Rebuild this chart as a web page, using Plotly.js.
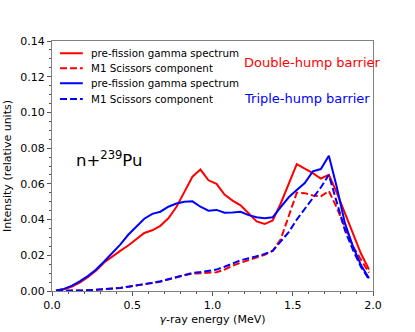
<!DOCTYPE html>
<html><head><meta charset="utf-8">
<script src="https://cdn.plot.ly/plotly-3.0.1.min.js"></script>
<style>html,body{margin:0;padding:0;background:#fff}#chart{width:415px;height:332px}</style>
</head><body><div id="chart"></div>
<script>
const energy = [0.025,0.075,0.125,0.175,0.225,0.275,0.325,0.375,0.425,0.475,0.525,0.575,0.625,0.675,0.725,0.775,0.825,0.875,0.925,0.975,1.025,1.075,1.125,1.175,1.225,1.275,1.325,1.375,1.425,1.475,1.525,1.575,1.625,1.675,1.725,1.775,1.825,1.875,1.925,1.975];
const doubleTotal = [0.0003,0.001,0.0025,0.0048,0.0078,0.0115,0.016,0.0195,0.0225,0.0255,0.029,0.0325,0.034,0.0365,0.0407,0.047,0.0555,0.064,0.068,0.062,0.060,0.054,0.0506,0.048,0.0435,0.039,0.0375,0.0395,0.049,0.060,0.071,0.0685,0.066,0.063,0.065,0.055,0.044,0.032,0.021,0.012];
const doubleM1 = [0,0,0.0001,0.0002,0.0004,0.0007,0.001,0.0013,0.0017,0.0024,0.003,0.0036,0.0044,0.0052,0.0064,0.0078,0.0088,0.0097,0.0099,0.0101,0.0105,0.012,0.0142,0.0158,0.0172,0.0185,0.0203,0.0225,0.029,0.042,0.055,0.0548,0.0535,0.053,0.056,0.0465,0.036,0.025,0.0175,0.0103];
const tripleTotal = [0.0003,0.0012,0.003,0.0055,0.0085,0.012,0.0165,0.021,0.026,0.0315,0.036,0.0405,0.0432,0.0444,0.0472,0.049,0.050,0.0502,0.0472,0.045,0.0454,0.0438,0.044,0.0444,0.0425,0.0413,0.0408,0.0413,0.047,0.0525,0.0565,0.0605,0.067,0.0683,0.0758,0.058,0.038,0.025,0.0145,0.0071];
const tripleM1 = [0,0,0.0001,0.0002,0.0004,0.0007,0.001,0.0013,0.0017,0.0024,0.003,0.0037,0.0046,0.0055,0.0066,0.0078,0.009,0.0101,0.0106,0.0113,0.012,0.0136,0.0155,0.0172,0.0183,0.0195,0.0207,0.0225,0.0275,0.033,0.040,0.046,0.052,0.058,0.065,0.050,0.034,0.023,0.0135,0.0066];
const seriesNames = ['pre-fission gamma spectrum','M1 Scissors component','pre-fission gamma spectrum','M1 Scissors component'];
const barrierLabels = ['Double-hump barrier','Triple-hump barrier'];
const RED = '#ff0000', BLUE = '#0000ff';
const FONT = 'DejaVu Sans, sans-serif';
const DASH = '7px,3px';

const traces = [
  {x: energy, y: doubleTotal, name: seriesNames[0], mode: 'lines', line: {color: RED, width: 2}},
  {x: energy, y: doubleM1, name: seriesNames[1], mode: 'lines', line: {color: RED, width: 2, dash: DASH}},
  {x: energy, y: tripleTotal, name: seriesNames[2], mode: 'lines', line: {color: BLUE, width: 2}},
  {x: energy, y: tripleM1, name: seriesNames[3], mode: 'lines', line: {color: BLUE, width: 2, dash: DASH}}
];

// compact matplotlib-style legend built from the traces themselves
const legendRowsY = [0.951, 0.891, 0.831, 0.768];
const shapes = [];
const annotations = [];
traces.forEach((t, i) => {
  shapes.push({type: 'line', xref: 'paper', yref: 'paper', x0: 0.025, x1: 0.096,
               y0: legendRowsY[i], y1: legendRowsY[i],
               line: {color: t.line.color, width: 2, dash: t.line.dash || 'solid'}});
  annotations.push({text: t.name, xref: 'paper', yref: 'paper', x: 0.115, y: legendRowsY[i],
                    xanchor: 'left', yanchor: 'middle', showarrow: false,
                    font: {family: FONT, size: 10.3, color: '#000'}});
});

const axisCommon = {
  showline: true, mirror: true, linecolor: '#808080', linewidth: 1,
  ticks: 'outside', ticklen: 4, tickwidth: 1, tickcolor: '#555',
  showgrid: false, zeroline: false,
  tickfont: {family: FONT, size: 11, color: '#000'}
};

const layout = {
  width: 415, height: 332,
  margin: {l: 52, r: 42, t: 41, b: 41},
  paper_bgcolor: '#fff', plot_bgcolor: '#fff',
  font: {family: FONT, color: '#000'},
  showlegend: false,
  xaxis: Object.assign({}, axisCommon, {
    range: [0, 2.0], tickvals: [0, 0.5, 1.0, 1.5, 2.0], ticktext: ['0.0','0.5','1.0','1.5','2.0'],
    minor: {dtick: 0.1, ticks: 'outside', ticklen: 2, tickcolor: '#555'},
    title: {text: '<i>γ</i>-ray energy (MeV)', font: {family: FONT, size: 11}, standoff: 4}
  }),
  yaxis: Object.assign({}, axisCommon, {
    range: [0, 0.14], tickvals: [0,0.02,0.04,0.06,0.08,0.10,0.12,0.14],
    ticktext: ['0.00','0.02','0.04','0.06','0.08','0.10','0.12','0.14'],
    minor: {dtick: 0.005, ticks: 'outside', ticklen: 2, tickcolor: '#555'},
    title: {text: 'Intensity (relative units)', font: {family: FONT, size: 11}, standoff: 6}
  }),
  shapes: shapes,
  annotations: annotations.concat([
    {text: barrierLabels[0], xref: 'paper', yref: 'paper', x: 0.592, y: 0.912, xanchor: 'left', yanchor: 'middle',
     showarrow: false, font: {family: FONT, size: 13, color: RED}},
    {text: barrierLabels[1], xref: 'paper', yref: 'paper', x: 0.592, y: 0.772, xanchor: 'left', yanchor: 'middle',
     showarrow: false, font: {family: FONT, size: 13, color: BLUE}},
    {text: 'n+<sup>239</sup>Pu', xref: 'paper', yref: 'paper', x: 0.069, y: 0.53, xanchor: 'left', yanchor: 'middle',
     showarrow: false, font: {family: FONT, size: 16.5, color: '#000'}}
  ])
};

Plotly.newPlot('chart', traces, layout, {displayModeBar: false, staticPlot: true});
</script></body></html>
